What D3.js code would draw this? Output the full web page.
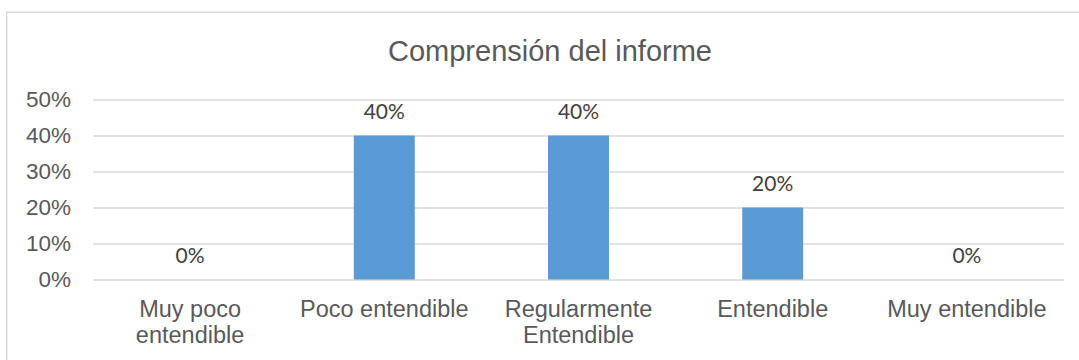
<!DOCTYPE html>
<html>
<head>
<meta charset="utf-8">
<script src="https://cdn.jsdelivr.net/npm/d3@7"></script>
<style>
  body { margin: 0; background: #fff; }
  svg { display: block; }
</style>
</head>
<body>
<div id="chart"></div>
<script>
const categories = ["Muy poco entendible", "Poco entendible", "Regularmente Entendible", "Entendible", "Muy entendible"];
const values = [0, 0.4, 0.4, 0.2, 0];
const yTicks = [0, 0.1, 0.2, 0.3, 0.4, 0.5];
const title = "Comprensión del informe";

const width = 1079;
const height = 360;
const margin = { top: 99.5, right: 15, bottom: 80.5, left: 93 };

const svg = d3.select("#chart")
  .append("svg")
  .attr("width", width)
  .attr("height", height);

// chart border (runs off the picture on the right and bottom)
svg.append("rect")
  .attr("x", 6.75)
  .attr("y", 12.25)
  .attr("width", 1090)
  .attr("height", 400)
  .attr("fill", "none")
  .attr("stroke", "#d9d9d9")
  .attr("stroke-width", 1.5);

svg.append("text")
  .attr("x", 550)
  .attr("y", 60.5)
  .attr("text-anchor", "middle")
  .style("font-family", "'Liberation Sans', Arial, sans-serif")
  .style("font-size", "29px")
  .style("fill", "#595959")
  .text(title);

const x = d3.scaleBand()
  .domain(categories)
  .range([margin.left, width - margin.right])
  .paddingInner(0.686)
  .paddingOuter(0.343);

const y = d3.scaleLinear()
  .domain([0, 0.5])
  .range([height - margin.bottom, margin.top]);

// y axis with gridlines
const yAxis = svg.append("g")
  .attr("transform", `translate(${margin.left},0)`)
  .call(d3.axisLeft(y)
    .tickValues(yTicks)
    .tickFormat(d3.format(".0%"))
    .tickSize(-(width - margin.right - margin.left))
    .tickPadding(22));

yAxis.select(".domain").remove();
yAxis.selectAll(".tick line")
  .attr("stroke", "#d9d9d9")
  .attr("stroke-width", 1.3);
yAxis.selectAll(".tick text")
  .style("font-family", "'Liberation Sans', Arial, sans-serif")
  .style("font-size", "22.5px")
  .style("fill", "#595959");

// bars
svg.selectAll(".bar")
  .data(values)
  .enter()
  .append("rect")
  .attr("class", "bar")
  .attr("x", (d, i) => x(categories[i]))
  .attr("y", d => y(d))
  .attr("width", x.bandwidth())
  .attr("height", d => y(0) - y(d))
  .attr("fill", "#5b9bd5");

// data labels
svg.selectAll(".label")
  .data(values)
  .enter()
  .append("text")
  .attr("class", "label")
  .attr("x", (d, i) => x(categories[i]) + x.bandwidth() / 2)
  .attr("y", d => y(d) - 17)
  .attr("text-anchor", "middle")
  .style("font-family", "Lato, 'Open Sans', sans-serif")
  .style("font-size", "21px")
  .style("fill", "#404040")
  .text(d => d3.format(".0%")(d));

// category labels, wrapped to the band like Excel does
const step = x.step();
const catText = svg.selectAll(".cat")
  .data(categories)
  .enter()
  .append("text")
  .attr("class", "cat")
  .attr("x", d => x(d) + x.bandwidth() / 2)
  .attr("y", y(0) + 37.5)
  .attr("text-anchor", "middle")
  .style("font-family", "'Liberation Sans', Arial, sans-serif")
  .style("font-size", "23.5px")
  .style("fill", "#595959");

catText.each(function(d) {
  const t = d3.select(this);
  const cx = t.attr("x");
  const words = d.split(" ");
  let line = [];
  let tspan = t.append("tspan").attr("x", cx).attr("dy", 0);
  words.forEach(w => {
    line.push(w);
    tspan.text(line.join(" "));
    if (tspan.node().getComputedTextLength() > step - 4 && line.length > 1) {
      line.pop();
      tspan.text(line.join(" "));
      line = [w];
      tspan = t.append("tspan").attr("x", cx).attr("dy", 26).text(w);
    }
  });
});
</script>
</body>
</html>
